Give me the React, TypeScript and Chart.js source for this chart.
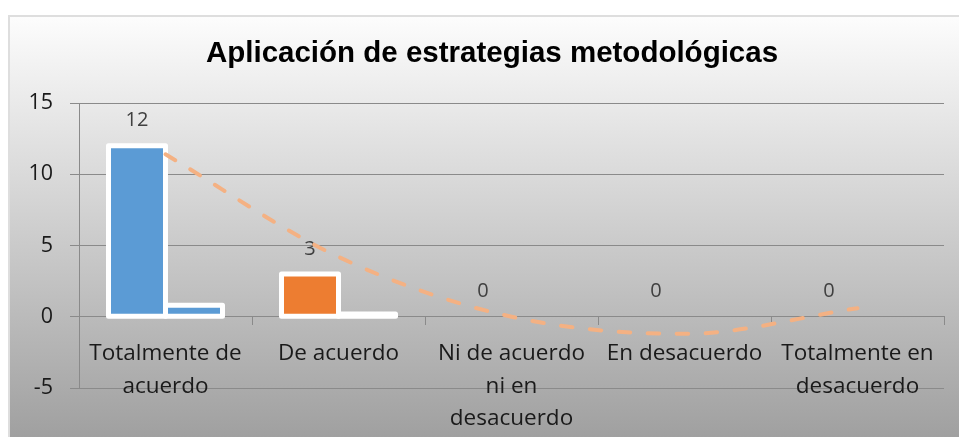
import React, { useEffect, useRef } from "react";
import { Chart, registerables } from "chart.js";

Chart.register(...registerables);

const TITLE = "Aplicación de estrategias metodológicas";
const categories: string[][] = [
  ["Totalmente de", "acuerdo"],
  ["De acuerdo"],
  ["Ni de acuerdo", "ni en", "desacuerdo"],
  ["En desacuerdo"],
  ["Totalmente en", "desacuerdo"],
];
const frequency = [12, 3, 0, 0, 0];
const percentage = [0.8, 0.2, 0, 0, 0];
// polynomial trendline, values at each category
const trendline = [11.4, 4.2, 0, -1.2, 0.6];
const pointColors = ["#5B9BD5", "#ED7D31", "#A5A5A5", "#FFC000", "#4472C4"];
const yTicks = { min: -5, max: 15, step: 5 };

const GRID = "#8a8a8a";
const FONT = '"Open Sans", "Noto Sans", sans-serif';

const backgroundPlugin = {
  id: "excelBackground",
  beforeDraw(chart: any) {
    const { ctx, width, height } = chart;
    ctx.save();
    ctx.fillStyle = "#ffffff";
    ctx.fillRect(0, 0, width, height);
    const g = ctx.createLinearGradient(0, 15, 0, height);
    g.addColorStop(0, "#fdfdfd");
    g.addColorStop(1, "#a0a0a0");
    ctx.fillStyle = g;
    ctx.fillRect(8, 15, width - 8, height - 15);
    ctx.strokeStyle = "#dedede";
    ctx.lineWidth = 2;
    ctx.strokeRect(9, 16, width, height);
    ctx.font = 'bold 29.5px "Liberation Sans", Arial, sans-serif';
    ctx.fillStyle = "#000000";
    ctx.textAlign = "center";
    ctx.textBaseline = "middle";
    ctx.fillText(TITLE, 492, 54);
    ctx.restore();
  },
};

const barBorderPlugin = {
  id: "excelBarBorders",
  afterDatasetDraw(chart: any, args: any) {
    const ds = chart.data.datasets[args.index];
    if (ds.type === "line") return;
    const { ctx } = chart;
    const meta = args.meta;
    ctx.save();
    ctx.strokeStyle = "#ffffff";
    ctx.lineWidth = 5;
    ctx.lineJoin = "round";
    meta.data.forEach((el: any, i: number) => {
      const v = ds.data[i];
      if (!v) return;
      const { x, y, base, width } = el.getProps(["x", "y", "base", "width"], true);
      ctx.strokeRect(x - width / 2, Math.min(y, base), width, Math.abs(base - y));
    });
    if (args.index === 0) {
      ctx.fillStyle = "#404040";
      ctx.font = `20px ${FONT}`;
      ctx.textAlign = "center";
      ctx.textBaseline = "middle";
      meta.data.forEach((el: any, i: number) => {
        const { x, y } = el.getProps(["x", "y"], true);
        ctx.fillText(String(ds.data[i]), x, y - 25);
      });
    }
    ctx.restore();
  },
};

export default function App() {
  const ref = useRef<HTMLCanvasElement>(null);
  useEffect(() => {
    if (!ref.current) return;
    const chart = new Chart(ref.current, {
      type: "bar",
      data: {
        labels: categories,
        datasets: [
          {
            label: "Frecuencia",
            data: frequency,
            backgroundColor: pointColors,
            borderWidth: 0,
            barPercentage: 1,
            categoryPercentage: 0.659,
          },
          {
            label: "Porcentaje",
            data: percentage,
            backgroundColor: pointColors,
            borderWidth: 0,
            barPercentage: 1,
            categoryPercentage: 0.659,
          },
          {
            type: "line",
            label: "Polinómica",
            data: trendline,
            borderColor: "#F4B183",
            borderWidth: 4,
            borderDash: [11.5, 17.5],
            borderCapStyle: "round",
            cubicInterpolationMode: "monotone",
            pointRadius: 0,
            fill: false,
            order: -1,
          } as any,
        ],
      },
      options: {
        animation: false,
        responsive: false,
        devicePixelRatio: 1,
        events: [],
        layout: { padding: { top: 103, left: 0, right: 15, bottom: 49 } },
        plugins: {
          legend: { display: false },
          tooltip: { enabled: false },
          title: { display: false },
        },
        scales: {
          x: {
            type: "category",
            position: { y: 0 } as any,
            offset: true,
            grid: {
              offset: true,
              drawOnChartArea: false,
              drawTicks: true,
              tickLength: 8,
              color: GRID,
            },
            border: { display: true, color: GRID, width: 1 },
            ticks: {
              autoSkip: false,
              maxRotation: 0,
              minRotation: 0,
              padding: 13,
              color: "#1a1a1a",
              font: { family: FONT, size: 22.5, lineHeight: 1.44 },
            },
          },
          y: {
            min: yTicks.min,
            max: yTicks.max,
            afterFit(scale: any) {
              scale.width = 79;
            },
            grid: { color: GRID, tickLength: 9, drawTicks: true },
            border: { display: true, color: GRID },
            ticks: {
              stepSize: yTicks.step,
              padding: 17,
              color: "#1a1a1a",
              font: { family: FONT, size: 21.5 },
            },
          },
        },
      },
      plugins: [backgroundPlugin, barBorderPlugin],
    });
    return () => chart.destroy();
  }, []);
  return (
    <div style={{ position: "absolute", left: 0, top: 0, width: 959, height: 437 }}>
      <canvas ref={ref} width={959} height={437} style={{ display: "block" }} />
    </div>
  );
}
